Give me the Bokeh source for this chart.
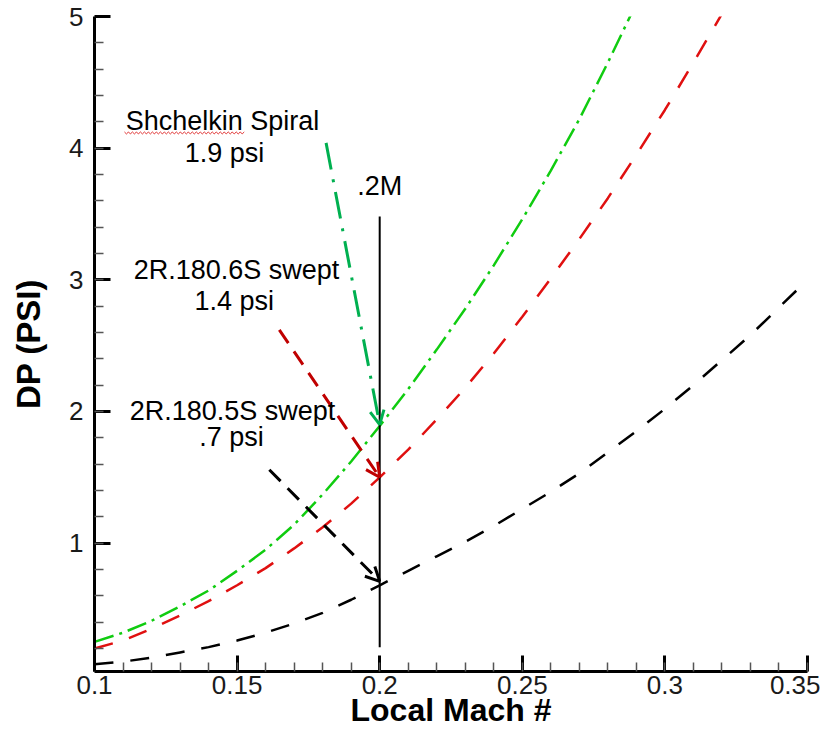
from bokeh.plotting import figure
from bokeh.models import FixedTicker, Arrow, OpenHead, Label, Title, Range1d
from bokeh.embed import file_html
from bokeh.resources import INLINE

# ---------------- data ----------------
mach = [0.10, 0.11, 0.12, 0.13, 0.14, 0.15, 0.16, 0.17, 0.18, 0.19,
        0.20, 0.21, 0.22, 0.23, 0.24, 0.25, 0.26, 0.27, 0.28, 0.29,
        0.30, 0.31, 0.32, 0.33, 0.34, 0.35]

# Shchelkin Spiral (green dash-dot), Mach 0.10 .. 0.29
dp_spiral = [0.25, 0.32, 0.41, 0.52, 0.64, 0.79, 0.95, 1.14, 1.37, 1.62,
             1.89, 2.17, 2.47, 2.78, 3.11, 3.46, 3.83, 4.22, 4.65, 5.10]
# 2R.180.6S swept (red dashed), Mach 0.10 .. 0.32
dp_6s = [0.20, 0.26, 0.35, 0.45, 0.56, 0.68, 0.81, 0.96, 1.12, 1.30,
         1.50, 1.71, 1.94, 2.18, 2.44, 2.72, 3.01, 3.31, 3.62, 3.95,
         4.29, 4.65, 5.02]
# 2R.180.5S swept (black dashed), Mach 0.10 .. 0.35
dp_5s = [0.08, 0.10, 0.13, 0.17, 0.21, 0.26, 0.32, 0.39, 0.47, 0.57,
         0.68, 0.79, 0.90, 1.01, 1.13, 1.26, 1.39, 1.53, 1.69, 1.85,
         2.02, 2.20, 2.39, 2.58, 2.79, 3.00]

x_ticks = [0.1, 0.15, 0.2, 0.25, 0.3, 0.35]
x_tick_labels = ["0.1", "0.15", "0.2", "0.25", "0.3", "0.35"]
y_ticks = [1, 2, 3, 4, 5]
y_tick_labels = ["1", "2", "3", "4", "5"]

x_title = "Local Mach #"
y_title = "DP (PSI)"

# design point marker
mark_x = 0.2
mark_y = [0.21, 3.48]
mark_label = ".2M"

# annotations: label lines, arrow start points, arrow tips (value at Mach 0.2)
ann_title = ["Shchelkin Spiral", "2R.180.6S swept", "2R.180.5S swept"]
ann_value = ["1.9 psi", "1.4 psi", ".7 psi"]
ann_x_start = [0.1812, 0.1648, 0.1613]
ann_y_start = [4.04, 2.62, 1.557]
ann_y_end = [1.90, 1.50, 0.71]

# ---------------- figure ----------------
FONT = "Liberation Sans"

p = figure(width=820, height=730, output_backend="svg", toolbar_location=None,
           x_range=Range1d(0.1, 0.35), y_range=Range1d(0.025, 5.0),
           min_border_left=94, min_border_right=13, min_border_top=16,
           min_border_bottom=59)
p.outline_line_color = None
p.grid.visible = False
p.background_fill_color = "white"
p.border_fill_color = "white"

x_minor = [round(0.1 + 0.01 * i, 2) for i in range(26)]
y_minor = [round(0.2 * i, 1) for i in range(1, 25)]
p.xaxis.ticker = FixedTicker(ticks=x_ticks, minor_ticks=x_minor)
p.yaxis.ticker = FixedTicker(ticks=y_ticks, minor_ticks=y_minor)
p.xaxis.major_label_overrides = {t: s for t, s in zip(x_ticks, x_tick_labels)}
p.yaxis.major_label_overrides = {t: s for t, s in zip(y_ticks, y_tick_labels)}

for ax in (p.xaxis, p.yaxis):
    ax.axis_line_width = 3
    ax.axis_line_color = "black"
    ax.major_tick_line_width = 3
    ax.major_tick_in = 16
    ax.major_tick_out = 0
    ax.minor_tick_in = 9
    ax.minor_tick_out = 0
    ax.minor_tick_line_width = 1.5
    ax.minor_tick_line_color = "#555555"
    ax.major_label_text_font = FONT
    ax.major_label_text_font_size = "26px"
    ax.major_label_text_color = "#1a1a1a"

p.xaxis.major_label_standoff = 4
p.yaxis.major_label_standoff = 11
p.yaxis.axis_label = y_title
p.yaxis.axis_label_text_font = FONT
p.yaxis.axis_label_text_font_size = "33px"
p.yaxis.axis_label_text_font_style = "bold"
p.yaxis.axis_label_text_color = "black"
p.yaxis.axis_label_standoff = 19

xt = Title(text=x_title, align="center", standoff=-14, text_font=FONT,
           text_font_size="32px", text_font_style="bold", text_color="black")
p.add_layout(xt, "below")

# ---------------- curves ----------------
p.line(mach[:len(dp_spiral)], dp_spiral, line_color="#10cc10", line_width=2.5,
       line_dash="20 6 3 6")
p.line(mach[:len(dp_6s)], dp_6s, line_color="#e01010", line_width=2.5,
       line_dash="19 17")
p.line(mach[:len(dp_5s)], dp_5s, line_color="black", line_width=2.5,
       line_dash="19 17")

# vertical marker at Mach 0.2
p.segment(x0=[mark_x], y0=[mark_y[0]], x1=[mark_x], y1=[mark_y[1]],
          line_color="black", line_width=2)

TXT = dict(text_align="center", text_baseline="alphabetic", text_font=FONT,
           text_font_size="27px", text_color="black")
p.add_layout(Label(x=mark_x, y=3.715, text=mark_label, **TXT))

# arrows
arrow_colors = ["#00b050", "#c00000", "black"]
arrow_dash = ["27 10 3 10", "16 10", "16 10"]
for i in range(3):
    head = OpenHead(size=14, line_color=arrow_colors[i], line_width=3)
    p.add_layout(Arrow(end=head, x_start=ann_x_start[i], y_start=ann_y_start[i],
                       x_end=mark_x, y_end=ann_y_end[i],
                       line_color=arrow_colors[i], line_width=3,
                       line_dash=arrow_dash[i]))

# annotation texts
title_pos = [(0.1449, 4.21), (0.1498, 3.077), (0.1484, 2.006)]
value_pos = [(0.1456, 3.965), (0.1490, 2.836), (0.1480, 1.804)]
for i in range(3):
    p.add_layout(Label(x=title_pos[i][0], y=title_pos[i][1], text=ann_title[i], **TXT))
    p.add_layout(Label(x=value_pos[i][0], y=value_pos[i][1], text=ann_value[i], **TXT))

# spell-check style squiggle under "Shchelkin"
sq_x = [0.1105 + 0.0007 * i for i in range(61)]
sq_y = [4.123 if i % 2 == 0 else 4.108 for i in range(61)]
p.line(sq_x, sq_y, line_color="#e03030", line_width=1)

open("out.html", "w").write(file_html(p, INLINE))
